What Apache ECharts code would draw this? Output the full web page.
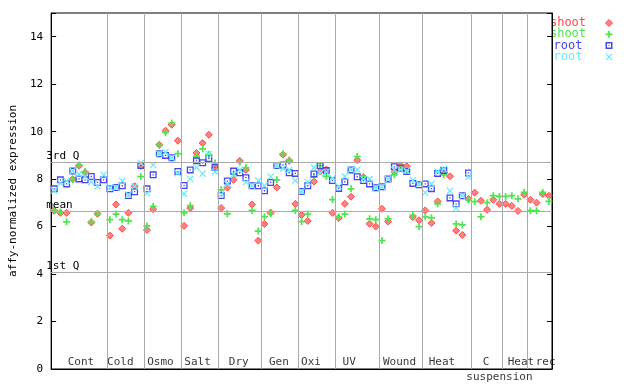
<!DOCTYPE html>
<html><head><meta charset="utf-8">
<script src="https://cdn.jsdelivr.net/npm/echarts@6/dist/echarts.min.js"></script>
<style>html,body{margin:0;padding:0;background:#fff}#c{width:640px;height:384px}</style>
</head><body><div id="c"></div>
<script>
// ---- data ----
const groupNames = ['Cont','Cold','Osmo','Salt','Dry','Gen','Oxi','UV','Wound','Heat','C','Heat','rec'];
const groupBounds = [0,9,15,21,27,34,40,46,53,60,68,73,77,81];
const subLabel = 'suspension';
const refLines = [{name:'3rd Q', value:8.7},{name:'mean', value:6.63},{name:'1st Q', value:4.08}];
const yTicks = [0,2,4,6,8,10,12,14];

const shootRed = [6.67,6.58,6.58,8.0,8.56,8.28,6.17,6.54,null,
 5.62,6.93,5.91,6.58,7.7,8.55,
 5.86,6.73,9.45,10.04,10.29,9.62,
 6.03,6.78,9.1,9.52,9.87,8.47,
 6.78,7.64,7.97,8.77,8.39,6.93,5.41,
 6.11,6.59,7.65,9.03,8.77,6.96,
 6.49,6.24,7.9,8.33,8.4,6.58,
 6.36,6.96,7.26,8.8,8.08,6.12,6.0,
 6.75,6.21,8.3,8.58,8.54,6.4,6.27,
 6.68,6.15,7.06,8.28,8.12,5.83,5.65,7.17,
 7.43,7.09,6.71,7.13,6.96,
 6.96,6.87,6.66,7.34,
 7.13,7.01,7.37,7.3];
const shootGreen = [6.7,6.62,6.2,7.97,8.6,8.32,6.21,6.54,null,
 6.29,6.53,6.29,6.24,null,8.11,
 6.03,6.85,9.42,9.97,10.36,9.07,
 6.58,6.88,8.97,9.28,9.04,8.68,
 7.55,6.54,8.21,8.72,8.49,6.68,5.81,
 6.42,6.54,7.97,9.07,8.81,6.68,
 6.21,6.53,8.1,8.57,8.12,7.14,
 6.42,6.53,7.59,8.95,8.1,6.33,6.29,
 5.41,6.33,8.18,8.46,8.33,6.47,6.0,
 6.41,6.37,6.96,8.18,null,6.11,6.07,7.13,
 7.05,6.41,7.01,7.3,7.27,
 7.27,7.3,7.17,7.44,
 6.67,6.67,7.44,7.06];
const rootBlue = [7.59,7.97,7.8,8.34,8.01,7.97,8.11,7.86,7.97,
 7.59,7.65,7.72,7.31,7.47,8.57,
 7.59,8.18,9.07,9.0,8.9,8.32,
 7.73,8.39,8.77,8.69,8.87,8.49,
 7.31,7.92,8.34,8.27,8.06,7.72,7.72,
 7.51,7.86,8.57,8.6,8.27,8.24,
 7.48,7.72,8.22,8.57,8.36,7.94,
 7.61,7.89,8.39,8.1,7.94,7.8,7.64,
 7.68,8.01,8.52,8.46,8.32,7.82,7.76,
 7.8,7.6,8.24,8.36,7.21,6.96,7.3,8.26,
 null,null,null,null,null,null,null,null,null,null,null,null,null];
const rootCyan = [7.52,7.82,7.93,8.34,8.22,8.11,7.87,7.69,8.18,
 7.65,7.65,7.93,7.35,7.69,8.68,
 7.41,8.6,9.07,9.14,8.9,8.25,
 7.38,8.01,8.49,8.23,9.06,8.31,
 7.36,7.8,8.19,8.39,7.87,7.72,7.94,
 7.73,8.11,8.57,8.46,8.39,7.94,
 7.48,7.87,8.49,8.25,8.3,8.04,
 7.7,8.12,8.4,8.4,8.0,8.01,7.64,
 7.68,8.0,8.4,8.4,8.35,7.96,7.8,
 7.43,7.8,8.32,8.43,7.51,6.78,7.3,8.09,
 null,null,null,null,null,null,null,null,null,null,null,null,null];

// ---- styles ----
const FONT = '"DejaVu Sans Mono", "Liberation Mono", monospace';
const C_RED = '#ff4a4a', C_GREEN = '#4ee64e', C_BLUE = '#4646f0', C_CYAN = '#66eeff';
const RED_FILL = 'rgba(255,80,80,0.72)';
const P_PLUS = 'M3,0H5V3H8V5H5V8H3V5H0V3H3Z';
const P_SQ = 'M0,0H8V8H0Z M1.5,1.5V6.5H6.5V1.5Z M3.25,3.25H4.75V4.75H3.25Z';
const P_X = 'M0,1L1,0L4,3L7,0L8,1L5,4L8,7L7,8L4,5L1,8L0,7L3,4Z';
// pixel nudges for the group captions (style only)
const labelNudge = [2,-5,-2,-2,-1,-1,-6,-8,-1,-5,-1,6,6];

function pts(arr){ const out=[]; arr.forEach((v,i)=>{ if(v!==null) out.push([i+0.5, v]); }); return out; }

const seriesDefs = [
  {name:'shoot', data:shootRed, symbol:'diamond', color:RED_FILL, border:C_RED, bw:1},
  {name:'shoot', data:shootGreen, symbol:'path://'+P_PLUS, color:C_GREEN},
  {name:'root', data:rootBlue, symbol:'path://'+P_SQ, color:C_BLUE},
  {name:'root', data:rootCyan, symbol:'path://'+P_X, color:C_CYAN}
];

const series = seriesDefs.map(s=>({
  type:'scatter', name:s.name, data:pts(s.data), symbol:s.symbol, symbolSize:7,
  itemStyle:{color:s.color, borderColor:s.border||'transparent', borderWidth:s.bw||0, opacity:1},
  silent:true, animation:false
}));

// separators and reference lines
series.unshift({
  type:'scatter', data:[], silent:true, animation:false,
  markLine:{
    silent:true, symbol:'none', animation:false,
    lineStyle:{color:'#aaaaaa', width:1, type:'solid'},
    label:{show:true, position:'insideStartTop', color:'#000', fontFamily:FONT, fontSize:11, distance:[-5,1],
      formatter:p=>p.name||''},
    data: groupBounds.slice(1,-1).map(b=>({xAxis:b, label:{show:false}}))
      .concat(refLines.map(r=>({yAxis:r.value, name:r.name})))
  }
});

// group labels
const labelData = groupNames.map((n,k)=>({value:[(groupBounds[k]+groupBounds[k+1])/2, 0], name:n,
  label:{offset:[labelNudge[k],0]}}));
series.push({
  type:'scatter', data:labelData, symbolSize:0, silent:true, animation:false,
  label:{show:true, position:'top', distance:1, formatter:p=>p.name, color:'#000', fontFamily:FONT, fontSize:11}
});
series.push({
  type:'scatter', data:[{value:[(groupBounds[10]+groupBounds[12])/2, 0], name:subLabel}], symbolSize:0, silent:true, animation:false,
  label:{show:true, position:'bottom', distance:3, formatter:p=>p.name, color:'#000', fontFamily:FONT, fontSize:11}
});

// legend (graphic)
const SX = 605.5;
function legendSymbol(k, cy){
  const x0 = SX, y0 = cy-3.5;
  if(k===0) return [{type:'polygon', shape:{points:[[x0+3.5,y0],[x0+7,y0+3.5],[x0+3.5,y0+7],[x0,y0+3.5]]}, style:{fill:RED_FILL, stroke:C_RED, lineWidth:1}, silent:true}];
  if(k===1) return [{type:'polygon', shape:{points:[[3,0],[5,0],[5,3],[8,3],[8,5],[5,5],[5,8],[3,8],[3,5],[0,5],[0,3],[3,3]].map(p=>[x0+p[0]*7/8,y0+p[1]*7/8])}, style:{fill:C_GREEN}, silent:true}];
  if(k===2) return [
    {type:'rect', shape:{x:x0+0.75,y:y0+0.75,width:5.5,height:5.5}, style:{fill:null, stroke:C_BLUE, lineWidth:1.5}, silent:true},
    {type:'rect', shape:{x:x0+3,y:y0+3,width:1,height:1}, style:{fill:C_BLUE}, silent:true}];
  return [{type:'polygon', shape:{points:[[0,1],[1,0],[4,3],[7,0],[8,1],[5,4],[8,7],[7,8],[4,5],[1,8],[0,7],[3,4]].map(p=>[x0+p[0]*7/8,y0+p[1]*7/8])}, style:{fill:C_CYAN}, silent:true}];
}
const legendItems = [
  {text:'shoot', color:C_RED},
  {text:'shoot', color:C_GREEN},
  {text:'root', color:C_BLUE},
  {text:'root', color:C_CYAN}
];
const graphic = [];
legendItems.forEach((it,k)=>{
  const cy = 23 + k*11.3;
  graphic.push({type:'text', x:568, y:cy, style:{text:it.text, fill:it.color, font:'12px '+FONT, align:'center', verticalAlign:'middle'}, silent:true});
  legendSymbol(k, cy).forEach(g=>graphic.push(g));
});

const chart = echarts.init(document.getElementById('c'), null, {renderer:'canvas'});
chart.setOption({
  animation:false,
  backgroundColor:'#fff',
  grid:{left:44, right:88, top:13, bottom:15, show:true, borderColor:'#000', borderWidth:1, containLabel:false},
  xAxis:{type:'value', min:0, max:81, axisLine:{show:true, lineStyle:{color:'#000'}}, axisTick:{show:false}, axisLabel:{show:false}, splitLine:{show:false}},
  yAxis:[{type:'value', min:0, max:15, interval:2,
    name:'affy-normalized expression', nameLocation:'middle', nameGap:28, nameRotate:90,
    nameTextStyle:{color:'#000', fontFamily:FONT, fontSize:11},
    axisLine:{show:true, lineStyle:{color:'#000'}}, axisTick:{show:true, inside:true, length:5, lineStyle:{color:'#000'}},
    axisLabel:{color:'#000', fontFamily:FONT, fontSize:11, margin:8, formatter:v=>yTicks.includes(v)?String(v):''},
    splitLine:{show:false}},
   {type:'value', position:'right', min:0, max:15, interval:2,
    axisLine:{show:true, lineStyle:{color:'#000'}}, axisTick:{show:true, inside:true, length:5, lineStyle:{color:'#000'}},
    axisLabel:{show:false}, splitLine:{show:false}}],
  series:series,
  graphic:graphic
});
</script></body></html>
